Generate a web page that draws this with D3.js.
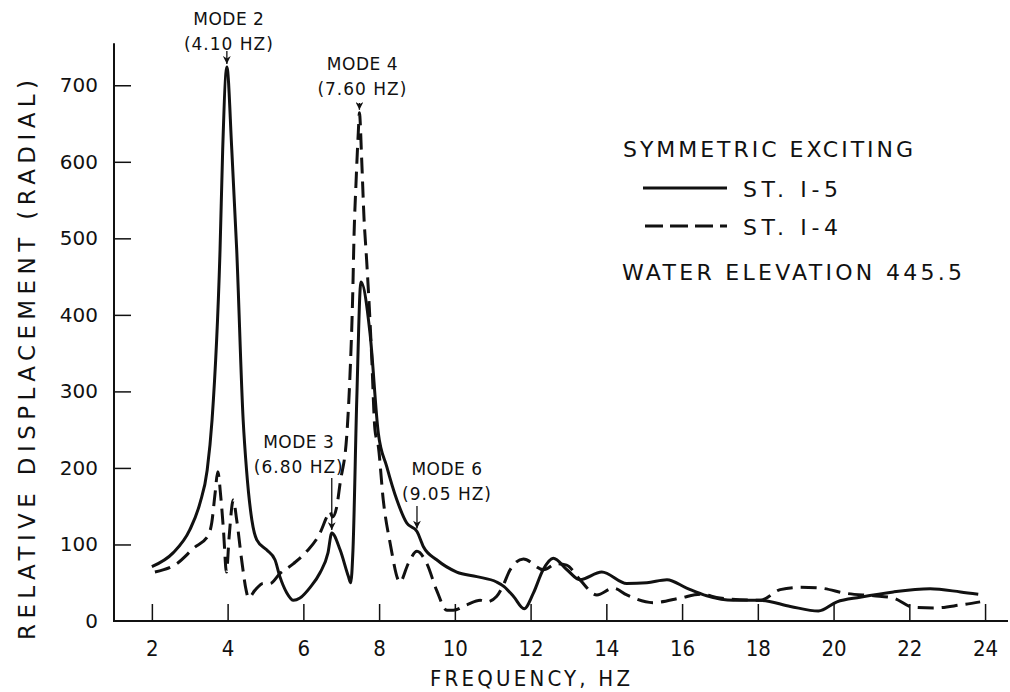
<!DOCTYPE html>
<html>
<head>
<meta charset="utf-8">
<script src="https://cdn.jsdelivr.net/npm/d3@7"></script>
<style>
  body { margin: 0; background: #fff; }
  svg { display: block; }
  .tick-y text { font-family: 'DejaVu Sans', sans-serif; font-size: 20px; fill: #111; }
  .tick-x text { font-family: 'Liberation Sans Narrow', 'DejaVu Sans Condensed', sans-serif; font-size: 22px; fill: #111; }
  .lbl { font-family: 'DejaVu Sans', sans-serif; fill: #111; }
</style>
</head>
<body>
<div id="chart"></div>
<script>
// frequency (Hz) / relative displacement pairs
const st5Freq = [2.0, 2.56, 3.0, 3.27, 3.46, 3.59, 3.8, 3.87, 3.98, 4.11, 4.24, 4.41, 4.5, 4.64, 4.77, 5.03, 5.25, 5.38, 5.56, 5.74, 5.91, 6.18, 6.44, 6.65, 6.75, 6.97, 7.19, 7.25, 7.31, 7.41, 7.52, 7.76, 7.98, 8.2, 8.47, 8.73, 9.0, 9.17, 9.52, 10.05, 10.58, 11.1, 11.3, 11.55, 11.83, 12.07, 12.33, 12.6, 12.96, 13.3, 13.88, 14.54, 15.07, 15.6, 16.12, 16.65, 17.35, 18.06, 18.86, 19.6, 20.09, 20.7, 21.58, 22.55, 23.35, 23.82]
const st5Value = [71, 89, 119, 154, 197, 263, 485, 616, 724, 616, 485, 263, 197, 132, 106, 93, 80, 58, 37, 27, 30, 44, 63, 89, 115, 93, 58, 50, 93, 289, 443, 376, 245, 202, 158, 128, 117, 97, 80, 64, 58, 51, 45, 32, 16, 36, 67, 82, 67, 54, 64, 49, 50, 54, 43, 33, 27, 27, 19, 13, 25, 31, 38, 42, 38, 35]

const st4Freq = [2.08, 2.66, 3.1, 3.49, 3.58, 3.67, 3.74, 3.82, 3.89, 3.97, 4.04, 4.15, 4.24, 4.37, 4.49, 4.55, 4.72, 4.94, 5.12, 5.38, 5.74, 6.09, 6.44, 6.62, 6.7, 6.77, 6.88, 6.97, 7.15, 7.23, 7.3, 7.34, 7.39, 7.45, 7.48, 7.54, 7.6, 7.67, 7.74, 7.8, 7.89, 7.98, 8.11, 8.29, 8.55, 8.77, 9.0, 9.26, 9.52, 9.79, 9.96, 10.31, 10.67, 10.84, 11.1, 11.28, 11.46, 11.81, 12.34, 12.69, 12.95, 13.3, 13.75, 14.19, 14.54, 15.25, 15.95, 16.48, 17.0, 18.06, 18.59, 19.12, 19.65, 20.35, 21.06, 21.58, 22.1, 22.64, 23.35, 23.87]
const st4Value = [64, 75, 95, 112, 128, 167, 195, 162, 119, 64, 110, 158, 132, 80, 40, 30, 40, 49, 49, 62, 75, 91, 115, 136, 143, 136, 149, 180, 245, 320, 420, 507, 572, 638, 664, 603, 528, 472, 411, 350, 250, 228, 158, 102, 51, 75, 91, 75, 40, 14, 14, 21, 27, 25, 32, 47, 67, 81, 67, 75, 73, 54, 34, 43, 34, 24, 30, 35, 30, 27, 41, 44, 43, 36, 33, 30, 18, 17, 21, 25]

const xTicks = [2, 4, 6, 8, 10, 12, 14, 16, 18, 20, 22, 24]
const yTicks = [0, 100, 200, 300, 400, 500, 600, 700]

const modeNames = ['MODE 2', 'MODE 3', 'MODE 4', 'MODE 6']
const modeHz = ['(4.10 HZ)', '(6.80 HZ)', '(7.60 HZ)', '(9.05 HZ)']
const modeAtFreq = [3.98, 6.75, 7.48, 9.0] // where each arrow points
const modeAtValue = [724, 115, 664, 117]

const width = 1010
const height = 692

const svg = d3.select('#chart').append('svg')
  .attr('width', width)
  .attr('height', height)

const x = d3.scaleLinear().domain([1, 24.5]).range([114, 1004])
const y = d3.scaleLinear().domain([0, 750]).range([621, 47])

// axes
const xAxis = svg.append('g')
  .attr('class', 'tick-x')
  .attr('transform', `translate(0,${y(0)})`)
  .call(d3.axisBottom(x).tickValues(xTicks).tickSizeInner(-17).tickSizeOuter(0))
xAxis.select('.domain').attr('stroke', '#111').attr('stroke-width', 2)
  .attr('d', `M${x(1) - 1},0H${x(24.5) + 4}`)
xAxis.selectAll('.tick line').attr('stroke', '#111').attr('stroke-width', 1.5)
xAxis.selectAll('.tick text').attr('y', 19)

const yAxis = svg.append('g')
  .attr('class', 'tick-y')
  .attr('transform', `translate(${x(1)},0)`)
  .call(d3.axisLeft(y).tickValues(yTicks).tickSizeInner(-17).tickSizeOuter(0).tickPadding(16))
yAxis.select('.domain').attr('stroke', '#111').attr('stroke-width', 2)
  .attr('d', `M0,${y(0) + 1}V${y(755)}`)
yAxis.selectAll('.tick line').attr('stroke', '#111').attr('stroke-width', 1.5)
  .filter(d => d === 0).remove()

// axis titles
svg.append('text')
  .attr('class', 'lbl')
  .attr('x', 530)
  .attr('y', 686)
  .attr('text-anchor', 'middle')
  .attr('textLength', 200)
  .attr('lengthAdjust', 'spacing')
  .style('font-family', "'Liberation Sans Narrow', 'DejaVu Sans Condensed', sans-serif")
  .style('font-size', '22px')
  .text('FREQUENCY, HZ')

svg.append('text')
  .attr('class', 'lbl')
  .attr('transform', 'translate(35,360) rotate(-90)')
  .attr('text-anchor', 'middle')
  .attr('textLength', 560)
  .attr('lengthAdjust', 'spacing')
  .style('font-size', '23px')
  .text('RELATIVE DISPLACEMENT (RADIAL)')

// curves
const line = d3.line()
  .x(d => x(d[0]))
  .y(d => y(d[1]))
  .curve(d3.curveMonotoneX)

svg.append('path')
  .datum(d3.zip(st5Freq, st5Value))
  .attr('fill', 'none')
  .attr('stroke', '#111')
  .attr('stroke-width', 3)
  .attr('stroke-linejoin', 'round')
  .attr('d', line)

svg.append('path')
  .datum(d3.zip(st4Freq, st4Value))
  .attr('fill', 'none')
  .attr('stroke', '#111')
  .attr('stroke-width', 3)
  .attr('stroke-dasharray', '16,8')
  .attr('d', line)

// mode annotations: label offsets relative to the arrow target
const labelDx = [2, -33, 3, 30]
const labelTop = [25, 448, 70, 475]
const arrowTop = [51, 478, 103, 506]

svg.append('defs').append('marker')
  .attr('id', 'head')
  .attr('viewBox', '0 0 10 10')
  .attr('refX', 10).attr('refY', 5)
  .attr('markerWidth', 7).attr('markerHeight', 6)
  .attr('orient', 'auto')
  .append('path')
  .attr('d', 'M0,0L10,5L0,10L3,5Z')
  .attr('fill', '#111')

modeNames.forEach((name, i) => {
  const px = x(modeAtFreq[i])
  const py = y(modeAtValue[i])
  const g = svg.append('g').attr('class', 'lbl').style('font-size', '17px')
  g.append('text')
    .attr('x', px + labelDx[i]).attr('y', labelTop[i])
    .attr('text-anchor', 'middle')
    .style('letter-spacing', '0.5px')
    .text(name)
  g.append('text')
    .attr('x', px + labelDx[i]).attr('y', labelTop[i] + 25)
    .attr('text-anchor', 'middle')
    .style('letter-spacing', '1px')
    .text(modeHz[i])
  g.append('line')
    .attr('x1', px).attr('x2', px)
    .attr('y1', arrowTop[i]).attr('y2', py - 3)
    .attr('stroke', '#111').attr('stroke-width', 1.3)
    .attr('marker-end', 'url(#head)')
})

// legend
const legend = svg.append('g').attr('class', 'lbl').style('font-size', '22px')
legend.append('text').attr('x', 623).attr('y', 157)
  .attr('textLength', 290).attr('lengthAdjust', 'spacing')
  .text('SYMMETRIC EXCITING')
legend.append('line').attr('x1', 643).attr('x2', 727).attr('y1', 188).attr('y2', 188)
  .attr('stroke', '#111').attr('stroke-width', 3)
legend.append('text').attr('x', 743).attr('y', 197)
  .attr('textLength', 95).attr('lengthAdjust', 'spacing')
  .text('ST. I-5')
legend.append('line').attr('x1', 645).attr('x2', 727).attr('y1', 226).attr('y2', 226)
  .attr('stroke', '#111').attr('stroke-width', 3).attr('stroke-dasharray', '18,7')
legend.append('text').attr('x', 743).attr('y', 235)
  .attr('textLength', 95).attr('lengthAdjust', 'spacing')
  .text('ST. I-4')
legend.append('text').attr('x', 622).attr('y', 280)
  .attr('textLength', 340).attr('lengthAdjust', 'spacing')
  .text('WATER ELEVATION 445.5')
</script>
</body>
</html>
